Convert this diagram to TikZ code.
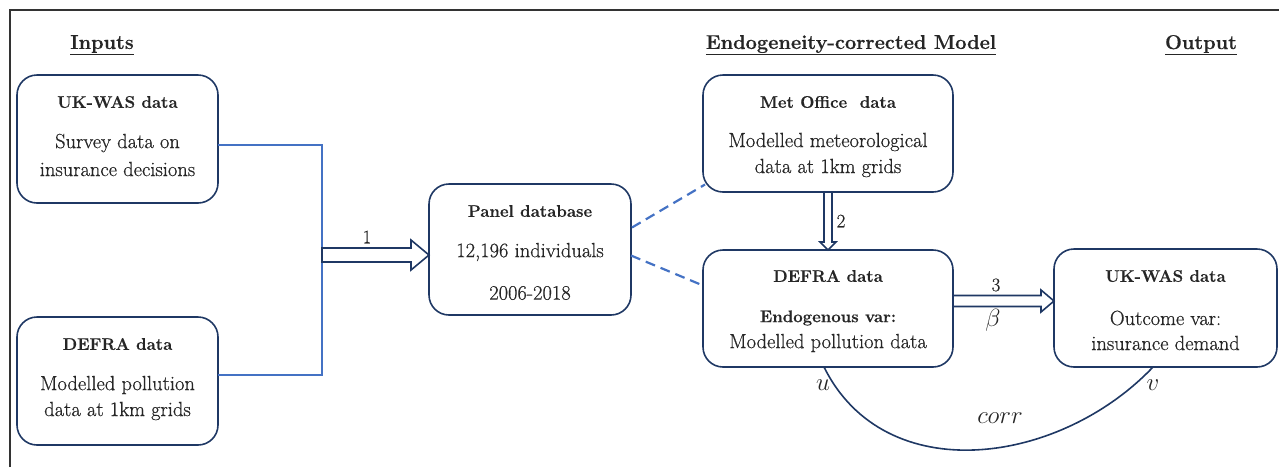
\documentclass[tikz,border=0pt]{standalone}
\usepackage{fontspec}
\setmainfont{Latin Modern Roman}[UprightFeatures={FakeBold=0.6}, BoldFeatures={FakeBold=0.5}]
\usetikzlibrary{calc}
\definecolor{navy}{HTML}{1F3864}
\definecolor{lblue}{HTML}{4472C4}
\definecolor{txt}{HTML}{262626}
\definecolor{frame}{HTML}{333333}
\begin{document}
\begin{tikzpicture}[x=1pt,y=-1pt,
  box/.style={draw=navy, line width=1.6pt, rounded corners=20pt, inner sep=0pt, outer sep=0pt, anchor=north west},
  ttl/.style={text=txt, font=\fontsize{16.8}{20}\selectfont\bfseries, inner sep=0pt},
  body/.style={text=txt, font=\fontsize{20.5}{22}\selectfont, inner sep=0pt},
  head/.style={text=txt, font=\fontsize{20}{22}\selectfont\bfseries, inner sep=0pt},
  lbl/.style={text=txt, font=\fontsize{19}{20}\selectfont, inner sep=0pt},
  mlbl/.style={text=txt, font=\fontsize{23}{24}\selectfont, inner sep=0pt},
  link/.style={draw=lblue, line width=2.2pt},
  dlink/.style={draw=lblue, line width=2.2pt, dash pattern=on 10pt off 6pt},
  harrow/.style={draw=navy, line width=1.6pt, fill=white, line join=miter},
  corrline/.style={draw=navy, line width=1.6pt}]
\useasboundingbox (0,0) rectangle (1279,467);
% frame
\draw[frame, line width=2.4pt] (10,467) -- (10,10) -- (1280,10);
% headings
\node[head] (hin) at (102,45) {\underline{Inputs}};
\node[head] (hmod) at (851,45) {\underline{Endogeneity-corrected Model}};
\node[head] (hout) at (1201,45) {\underline{Output}};
% boxes
\node[box, minimum width=201pt, minimum height=128pt] (uk1) at (17,75) {};
\node[box, minimum width=201pt, minimum height=128pt] (def1) at (17,317) {};
\node[box, minimum width=202pt, minimum height=131pt] (panel) at (429,184) {};
\node[box, minimum width=250pt, minimum height=117pt] (met) at (703,75) {};
\node[box, minimum width=250pt, minimum height=117pt] (def2) at (703,250) {};
\node[box, minimum width=223pt, minimum height=118pt] (uk2) at (1054,249) {};
% box texts
\node[ttl] (uk1t) at (117.5,102) {UK-WAS data};
\node[body] (uk1a) at (117.5,143) {Survey data on};
\node[body] (uk1b) at (117.5,169) {insurance decisions};
\node[ttl] (def1t) at (117.5,344) {DEFRA data};
\node[body] (def1a) at (117.5,385) {Modelled pollution};
\node[body] (def1b) at (117.5,411) {data at 1km grids};
\node[ttl] (panelt) at (530,211) {Panel database};
\node[body] (panela) at (530,252) {12,196 individuals};
\node[body] (panelb) at (530,293) {2006-2018};
\node[ttl] (mett) at (828,102) {Met Office~ data};
\node[body] (meta) at (828,142) {Modelled meteorological};
\node[body] (metb) at (828,168) {data at 1km grids};
\node[ttl] (def2t) at (828,276) {DEFRA data};
\node[ttl] (def2a) at (828,318) {Endogenous var:};
\node[body] (def2b) at (828,343) {Modelled pollution data};
\node[ttl] (uk2t) at (1165.5,276) {UK-WAS data};
\node[body] (uk2a) at (1165.5,318) {Outcome var:};
\node[body] (uk2b) at (1165.5,343) {insurance demand};
% blue connector from inputs
\coordinate (j) at (322,255);
\draw[link] ($(uk1.east)+(0,6)$) -| (j) |- ($(def1.east)+(0,-6)$);
% hollow arrow 1
\coordinate (t1) at (panel.west |- j);
\draw[harrow] ($(j)+(0,-7)$) -- ($(t1)+(-18,-7)$) -- ($(t1)+(-18,-15)$) -- (t1)
  -- ($(t1)+(-18,15)$) -- ($(t1)+(-18,7)$) -- ($(j)+(0,7)$) -- cycle;
\node[lbl] (l1) at (367,237) {1};
% dashed links
\draw[dlink] ($(panel.east)+(1,-22)$) -- ($(met.west)+(2,51)$);
\draw[dlink] ($(panel.east)+(0,6)$) -- ($(def2.west)+(0,-23)$);
% hollow arrow 2
\coordinate (s2) at (met.south);
\coordinate (t2) at (def2.north);
\draw[harrow] ($(s2)+(-4,0)$) -- ($(t2)+(-4,-8)$) -- ($(t2)+(-8,-8)$) -- (t2)
  -- ($(t2)+(8,-8)$) -- ($(t2)+(4,-8)$) -- ($(s2)+(4,0)$) -- cycle;
\node[lbl] (l2) at (841,221) {2};
% hollow arrow 3
\coordinate (s3) at (953,301);
\coordinate (t3) at (uk2.west |- s3);
\draw[harrow] ($(s3)+(0,-5.5)$) -- ($(t3)+(-13,-5.5)$) -- ($(t3)+(-13,-11)$) -- (t3)
  -- ($(t3)+(-13,11)$) -- ($(t3)+(-13,5.5)$) -- ($(s3)+(0,5.5)$) -- cycle;
\node[lbl] (l3) at (996,285) {3};
\node[mlbl] (lb) at (993,320) {$\beta$};
% correlation curve
\coordinate (cu) at ($(def2.south)+(-4,0)$);
\coordinate (cv) at ($(uk2.south)+(-12.5,0)$);
\draw[corrline] (cu) .. controls (885,490) and (1060,465) .. (cv);
\node[mlbl] (lu) at (823,385) {$u$};
\node[mlbl] (lv) at (1153,385) {$v$};
\node[mlbl] (lc) at (1000,418) {$corr$};
\end{tikzpicture}
\end{document}
